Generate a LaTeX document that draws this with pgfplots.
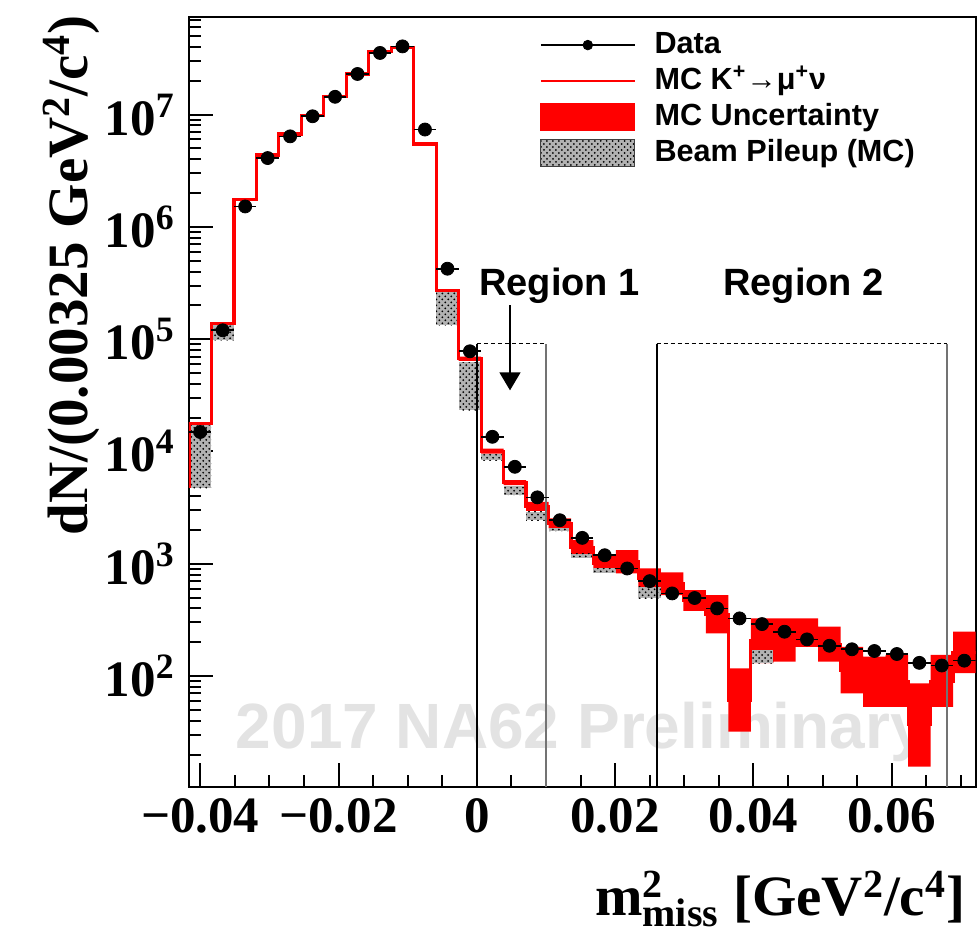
\documentclass[border=0pt]{standalone}
\usepackage{fontspec}
\setmainfont{Liberation Serif}
\newfontfamily\arialfont{Liberation Sans}
\usepackage{pgfplots}
\pgfplotsset{compat=1.18}
\usetikzlibrary{patterns,arrows.meta}
\pgfplotsset{pile/.style={forget plot, draw=none, fill=gray!60, postaction={pattern=crosshatch dots, pattern color=black}}}
\begin{document}
\begin{tikzpicture}
\useasboundingbox (-94.5bp,-76bp) rectangle (394.5bp,393.5bp);
\begin{axis}[
  at={(0,0)}, anchor=south west,
  scale only axis, width=393.25bp, height=385bp,
  ymode=log,
  xmin=-0.041625, xmax=0.072125, ymin=10.27, ymax=7.4e7,
  scaled x ticks=false,
  axis line style={line width=1bp},
  tick style={black, line width=1bp},
  major tick length=12bp, minor tick length=6bp,
  tick align=inside, tick pos=left,
  xtick={-0.04,-0.02,0,0.02,0.04,0.06},
  xticklabels={−0.04,−0.02,0,0.02,0.04,0.06},
  minor xtick={-0.035,-0.03,-0.025,-0.015,-0.01,-0.005,0.005,0.01,0.015,0.025,0.03,0.035,0.045,0.05,0.055,0.065,0.07},
  ytick={1e2,1e3,1e4,1e5,1e6,1e7},
  yticklabels={10\textsuperscript{2},10\textsuperscript{3},10\textsuperscript{4},10\textsuperscript{5},10\textsuperscript{6},10\textsuperscript{7}},
  minor ytick={20,30,40,50,60,70,80,90,200,300,400,500,600,700,800,900,2000,3000,4000,5000,6000,7000,8000,9000,2e4,3e4,4e4,5e4,6e4,7e4,8e4,9e4,2e5,3e5,4e5,5e5,6e5,7e5,8e5,9e5,2e6,3e6,4e6,5e6,6e6,7e6,8e6,9e6,2e7,3e7,4e7,5e7,6e7,7e7},
  xticklabel style={font=\fontsize{25.5bp}{30bp}\selectfont\bfseries, inner sep=0pt, anchor=north, yshift=-5.5bp},
  yticklabel style={font=\fontsize{25.5bp}{30bp}\selectfont\bfseries, inner sep=0pt, anchor=east, xshift=-7bp},
  xlabel={m\rlap{\textsuperscript{2}}\textsubscript{miss} [GeV\textsuperscript{2}/c\textsuperscript{4}]},
  xlabel style={font=\fontsize{28.5bp}{33bp}\selectfont\bfseries, inner sep=0pt, at={([xshift=-5bp,yshift=-42bp]rel axis cs:1,0)}, anchor=north east},
  ylabel={dN/(0.00325 GeV\textsuperscript{2}/c\textsuperscript{4})},
  ylabel style={font=\fontsize{28.5bp}{33bp}\selectfont\bfseries, inner sep=0pt, at={([xshift=-44.5bp,yshift=1bp]rel axis cs:0,1)}, anchor=south east},
  legend cell align=left,
  legend style={at={(axis description cs:0.4463,0.983)}, anchor=north west, draw=none, fill=none, inner sep=0pt, outer sep=0pt,
    font=\arialfont\fontsize{15.3bp}{18bp}\selectfont\bfseries, column sep=9.5bp, row sep=3bp,
    nodes={inner sep=0pt, text height=11.5bp, text depth=3.5bp}},
]
\addlegendimage{legend image code/.code={\draw[black,line width=0.6bp] (0bp,0bp) -- (47bp,0bp); \fill[black] (23.5bp,0bp) circle (2.4bp);}}
\addlegendentry{Data}
\addlegendimage{legend image code/.code={\draw[red,line width=0.8bp] (0bp,0bp) -- (47bp,0bp);}}
\addlegendentry{MC K\textsuperscript{+}→μ\textsuperscript{+}ν}
\addlegendimage{legend image code/.code={\fill[red] (0bp,-6.75bp) rectangle (47bp,6.75bp);}}
\addlegendentry{MC Uncertainty}
\addlegendimage{legend image code/.code={\draw[black!75,line width=0.5bp,fill=gray!60,postaction={pattern=crosshatch dots, pattern color=black}] (0bp,-6.75bp) rectangle (47bp,6.75bp);}}
\addlegendentry{Beam Pileup (MC)}

% watermark
\node[anchor=base west, text=black!11, font=\arialfont\fontsize{32bp}{36bp}\selectfont\bfseries, inner sep=0pt] at (axis cs:-0.0349,22.5) {2017 NA62 Preliminary};

% MC uncertainty band
\addplot[forget plot, const plot, fill=red, draw=none] coordinates {
(-0.002625,7.0e4) (0.000625,10600) (0.003875,5550) (0.007125,3550) (0.010375,2530) (0.013625,1620) (0.016875,1190) (0.020125,1320) (0.023375,908) (0.026625,837) (0.029875,582) (0.033125,526) (0.036375,117) (0.039625,326) (0.042875,326) (0.046125,326) (0.049375,275) (0.052625,182) (0.055875,149) (0.059125,154) (0.062375,86) (0.065625,154) (0.068875,248) (0.072125,248)
(0.072125,106) (0.068875,53) (0.065625,15.6) (0.062375,53) (0.059125,53) (0.055875,70) (0.052625,134) (0.049375,182) (0.046125,134) (0.042875,130) (0.039625,32) (0.036375,240) (0.033125,381) (0.029875,526) (0.026625,603) (0.023375,820) (0.020125,848) (0.016875,1190) (0.013625,2060) (0.010375,2960) (0.007125,5000) (0.003875,9570) (0.000625,6.4e4) (-0.002625,6.4e4)
};

% beam pileup boxes
\addplot[pile] coordinates {(-0.041625,4710) (-0.038375,4710) (-0.038375,17700) (-0.041625,17700)} -- cycle;
\addplot[pile] coordinates {(-0.038375,9.75e4) (-0.035125,9.75e4) (-0.035125,1.37e5) (-0.038375,1.37e5)} -- cycle;
\addplot[pile] coordinates {(-0.005875,1.33e5) (-0.002625,1.33e5) (-0.002625,2.7e5) (-0.005875,2.7e5)} -- cycle;
\addplot[pile] coordinates {(-0.002625,2.33e4) (0.000625,2.33e4) (0.000625,6.25e4) (-0.002625,6.25e4)} -- cycle;
\addplot[pile] coordinates {(0.000625,8350) (0.003875,8350) (0.003875,9570) (0.000625,9570)} -- cycle;
\addplot[pile] coordinates {(0.003875,4070) (0.007125,4070) (0.007125,4900) (0.003875,4900)} -- cycle;
\addplot[pile] coordinates {(0.007125,2440) (0.010375,2440) (0.010375,2900) (0.007125,2900)} -- cycle;
\addplot[pile] coordinates {(0.010375,1950) (0.013625,1950) (0.013625,2060) (0.010375,2060)} -- cycle;
\addplot[pile] coordinates {(0.013625,1135) (0.016875,1135) (0.016875,1230) (0.013625,1230)} -- cycle;
\addplot[pile] coordinates {(0.016875,830) (0.020125,830) (0.020125,908) (0.016875,908)} -- cycle;
\addplot[pile] coordinates {(0.023375,491) (0.026625,491) (0.026625,624) (0.023375,624)} -- cycle;
\addplot[pile] coordinates {(0.039625,130) (0.042875,130) (0.042875,170) (0.039625,170)} -- cycle;

% MC histogram
\addplot[forget plot, const plot, red, line width=1.6bp] coordinates {
(-0.041625,4710) (-0.041625,17700) (-0.038375,1.37e5) (-0.035125,1.74e6) (-0.031875,4.37e6) (-0.028625,6.73e6) (-0.025375,9.8e6) (-0.022125,1.45e7) (-0.018875,2.3e7) (-0.015625,3.66e7) (-0.012375,3.97e7) (-0.009125,5.48e6) (-0.005875,2.72e5) (-0.002625,6.7e4) (0.000625,1.0e4) (0.003875,5270) (0.007125,3240) (0.010375,2280) (0.013625,1390) (0.016875,1005) (0.020125,1040) (0.023375,740) (0.026625,663) (0.029875,471) (0.033125,355) (0.036375,61) (0.039625,206) (0.042875,209) (0.046125,244) (0.049375,192) (0.052625,113) (0.055875,89) (0.059125,90) (0.062375,37) (0.065625,90) (0.068875,162) (0.072125,162)
};

% regions
\addplot[forget plot, black, line width=1bp] coordinates {(0,10.27) (0,9.13e4)};
\addplot[forget plot, black!55, line width=0.8bp] coordinates {(0.01,10.27) (0.01,9.13e4)};
\addplot[forget plot, black, line width=1bp] coordinates {(0.026,10.27) (0.026,9.13e4)};
\addplot[forget plot, black!55, line width=0.8bp] coordinates {(0.068,10.27) (0.068,9.13e4)};
\addplot[forget plot, black, line width=0.7bp, dash pattern=on 2bp off 1.5bp] coordinates {(0,9.13e4) (0.01,9.13e4)};
\addplot[forget plot, black, line width=0.7bp, dash pattern=on 2bp off 1.5bp] coordinates {(0.026,9.13e4) (0.068,9.13e4)};
\draw[black, line width=0.7bp, -{Triangle[width=10.5bp,length=9bp]}] (axis cs:0.0048,2.0e5) -- (axis cs:0.0048,3.5e4);
\node[anchor=base, font=\arialfont\fontsize{19bp}{22bp}\selectfont\bfseries, inner sep=0pt] at (axis cs:0.01196,2.46e5) {Region 1};
\node[anchor=base, font=\arialfont\fontsize{19bp}{22bp}\selectfont\bfseries, inner sep=0pt] at (axis cs:0.04725,2.46e5) {Region 2};

% data
\addplot[forget plot, black, only marks, mark=*, mark size=3.25bp,
  error bars/.cd, x dir=both, x fixed=0.001625, error mark=none, error bar style={line width=0.8bp, black}] coordinates {
(-0.04,1.49e4) (-0.03675,1.2e5) (-0.0335,1.52e6) (-0.03025,4.1e6) (-0.027,6.4e6) (-0.02375,9.66e6) (-0.0205,1.44e7) (-0.01725,2.3e7) (-0.014,3.54e7) (-0.01075,4.05e7) (-0.0075,7.36e6) (-0.00425,4.24e5) (-0.001,7.8e4) (0.00225,1.35e4) (0.0055,7300) (0.00875,3900) (0.012,2440) (0.01525,1700) (0.0185,1190) (0.02175,907) (0.025,700) (0.02825,544) (0.0315,495) (0.03475,400) (0.038,326) (0.04125,290) (0.0445,248) (0.04775,212) (0.051,186) (0.05425,173) (0.0575,167) (0.06075,157) (0.064,131) (0.06725,124) (0.0705,137)
};
\end{axis}
\end{tikzpicture}
\end{document}
